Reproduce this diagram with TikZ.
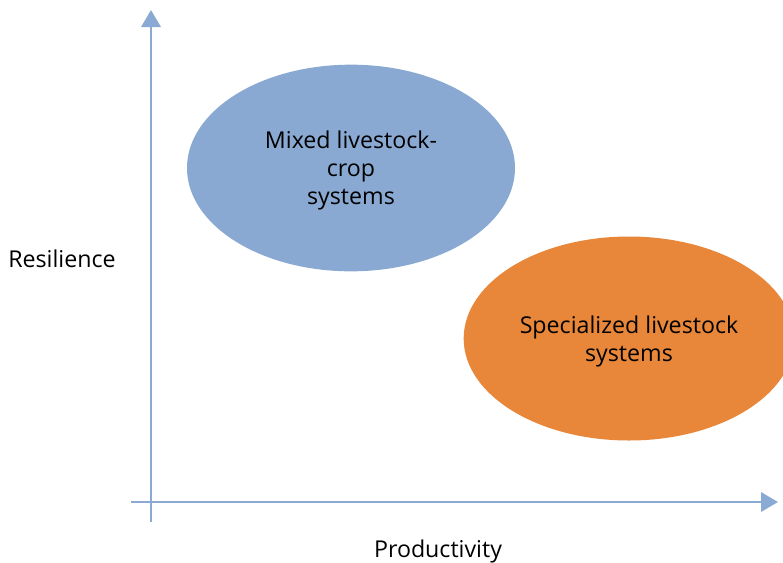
\documentclass[tikz,border=0pt]{standalone}
\usepackage{fontspec}
\setmainfont{Open Sans}
\usepackage{xcolor}
\usepackage{tikz}
\usetikzlibrary{shapes.geometric,arrows.meta}
\definecolor{axisblue}{HTML}{8AA9D3}
\definecolor{mixedblue}{HTML}{89A9D2}
\definecolor{specorange}{HTML}{E8863A}

\begin{document}
\begin{tikzpicture}[x=0.75pt, y=-0.75pt]
    \tikzset{axis/.style={draw=axisblue, line width=1.9pt, -{Triangle[length=12.75pt, width=14.5pt]}}}
    \tikzset{blob/.style={ellipse, inner sep=0pt, align=center, text depth=0pt, font=\fontsize{17.4}{21}\selectfont}}
    \tikzset{label/.style={font=\fontsize{17.4}{21}\selectfont}}

    \clip (0,0) rectangle (783,562);

    \coordinate (o1) at (151,522);
    \coordinate (o2) at (151,10);
    \coordinate (o3) at (131,502);
    \coordinate (o4) at (778,502);

    \node[blob, fill=mixedblue, minimum width=246pt, minimum height=155pt] (mixed) at (351,168) {Mixed livestock-\\crop\\systems};
    \node[blob, fill=specorange, minimum width=248pt, minimum height=153pt] (spec) at (629,338.5) {Specialized livestock\\systems};

    \draw[axis] (o1) -- (o2);
    \draw[axis] (o3) -- (o4);

    \node[label] (res) at (62,259) {Resilience};
    \node[label] (prod) at (438,551) {Productivity};
\end{tikzpicture}
\end{document}
